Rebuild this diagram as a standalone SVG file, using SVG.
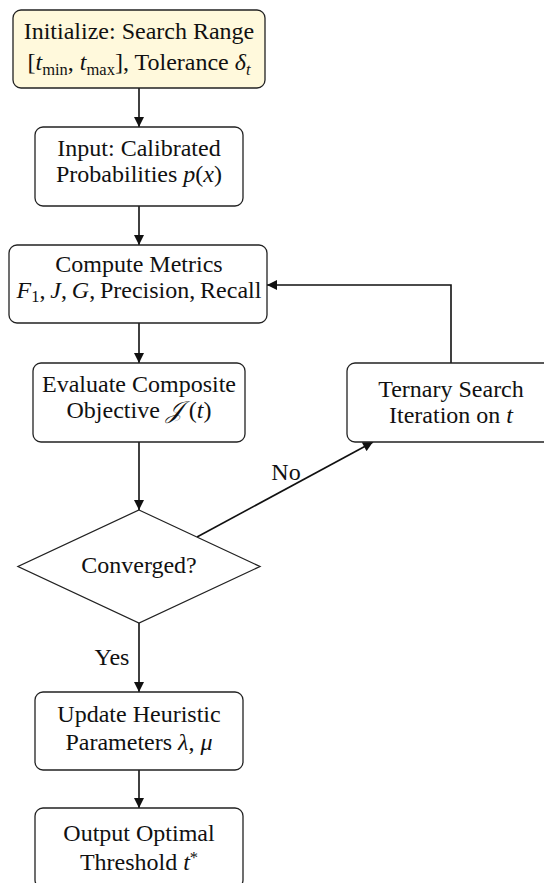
<svg xmlns="http://www.w3.org/2000/svg" width="544" height="883" viewBox="0 0 544 883">
<style>
.box{fill:#ffffff;stroke:#222;stroke-width:1.3}
.start{fill:#fff9dc}
.t{font-family:"Liberation Serif","Times New Roman",serif;font-size:24px;fill:#111;text-anchor:middle}
.i{font-style:italic}
.sub{font-size:16.5px}
.edge{fill:none;stroke:#111;stroke-width:1.6}
</style>
<defs>
<marker id="ah" viewBox="0 0 10 10" refX="10" refY="5" markerWidth="11" markerHeight="10" markerUnits="userSpaceOnUse" orient="auto">
<path d="M0,0 L10,5 L0,10 Z" fill="#111"/>
</marker>
</defs>
<rect width="544" height="883" fill="#ffffff"/>
<g id="connectors">
<line class="edge" x1="139" y1="88" x2="139" y2="127" marker-end="url(#ah)"/>
<line class="edge" x1="139" y1="206" x2="139" y2="245" marker-end="url(#ah)"/>
<line class="edge" x1="139" y1="323" x2="139" y2="363" marker-end="url(#ah)"/>
<line class="edge" x1="139" y1="442" x2="139" y2="510" marker-end="url(#ah)"/>
<line class="edge" x1="197" y1="537" x2="373" y2="442" marker-end="url(#ah)"/>
<polyline class="edge" points="451,363 451,285 267,285" marker-end="url(#ah)"/>
<line class="edge" x1="139" y1="623" x2="139" y2="692" marker-end="url(#ah)"/>
<line class="edge" x1="139" y1="770" x2="139" y2="808" marker-end="url(#ah)"/>
<text class="t" x="286" y="480">No</text>
<text class="t" x="112" y="665">Yes</text>
</g>
<g id="init">
<rect class="box start" x="13" y="10" width="252" height="78" rx="8"/>
<text class="t" x="139" y="39">Initialize: Search Range</text>
<text class="t" x="139" y="70">[<tspan class="i">t</tspan><tspan class="sub" dy="5">min</tspan><tspan dy="-5">, </tspan><tspan class="i">t</tspan><tspan class="sub" dy="5">max</tspan><tspan dy="-5">], Tolerance </tspan><tspan class="i">δ</tspan><tspan class="sub i" dy="5">t</tspan></text>
</g>
<g id="input">
<rect class="box" x="35" y="127" width="208" height="79" rx="8"/>
<text class="t" x="139" y="156">Input: Calibrated</text>
<text class="t" x="139" y="182">Probabilities <tspan class="i">p</tspan>(<tspan class="i">x</tspan>)</text>
</g>
<g id="compute">
<rect class="box" x="9" y="245" width="258" height="78" rx="8"/>
<text class="t" x="139" y="272">Compute Metrics</text>
<text class="t" x="139" y="298"><tspan class="i">F</tspan><tspan class="sub" dy="4">1</tspan><tspan dy="-4">,&#8201;</tspan><tspan class="i">J</tspan>,&#8201;<tspan class="i">G</tspan>,&#8201;Precision,&#8201;Recall</text>
</g>
<g id="evaluate">
<rect class="box" x="33" y="363" width="212" height="79" rx="8"/>
<text class="t" x="139" y="392">Evaluate Composite</text>
<text class="t" x="139" y="418">Objective <tspan class="i">𝒥</tspan> (<tspan class="i">t</tspan>)</text>
</g>
<g id="ternary">
<rect class="box" x="347" y="363" width="208" height="79" rx="8"/>
<text class="t" x="451" y="397">Ternary Search</text>
<text class="t" x="451" y="423">Iteration on <tspan class="i">t</tspan></text>
</g>
<g id="converged">
<polygon class="box" points="139,510 260,566.5 139,623 18,566.5"/>
<text class="t" x="139" y="573">Converged?</text>
</g>
<g id="update">
<rect class="box" x="35" y="692" width="208" height="78" rx="8"/>
<text class="t" x="139" y="722">Update Heuristic</text>
<text class="t" x="139" y="750">Parameters <tspan class="i">λ</tspan>, <tspan class="i">μ</tspan></text>
</g>
<g id="output">
<rect class="box" x="35" y="808" width="208" height="80" rx="8"/>
<text class="t" x="139" y="841">Output Optimal</text>
<text class="t" x="139" y="870">Threshold <tspan class="i">t</tspan><tspan class="sub" dy="-7">*</tspan></text>
</g>
</svg>
